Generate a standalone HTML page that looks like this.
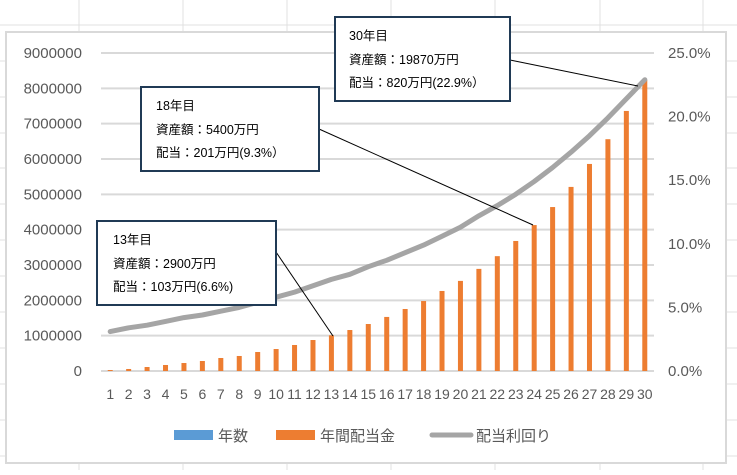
<!DOCTYPE html>
<html><head><meta charset="utf-8"><style>
body{margin:0;width:737px;height:470px;background:#fff;overflow:hidden;font-family:"Liberation Sans","Noto Sans CJK JP",sans-serif}
svg text{font-family:"Liberation Sans","Noto Sans CJK JP",sans-serif}
</style></head><body>
<svg id="chart" width="737" height="470" xmlns="http://www.w3.org/2000/svg">
<g id="cells"></g>
<rect x="6" y="32" width="720" height="431" fill="#fff" stroke="#d9d9d9" stroke-width="2"/>
<g id="grid"></g>
<g id="bars"></g>
<path id="yieldLine" fill="none" stroke="#a5a5a5" stroke-width="5" stroke-linecap="round" stroke-linejoin="round"/>
<g id="yl" font-size="15" fill="#595959" text-anchor="end"></g>
<g id="yr" font-size="15" fill="#595959"></g>
<g id="xl" font-size="14" fill="#595959" text-anchor="middle"></g>
<g font-size="12.5" fill="#000">
<line x1="510" y1="60" x2="638" y2="86" stroke="#000" stroke-width="1"/>
<line x1="319" y1="129" x2="533" y2="225" stroke="#000" stroke-width="1"/>
<line x1="276" y1="252" x2="333" y2="336" stroke="#000" stroke-width="1"/>
<g>
<rect x="335" y="17" width="175" height="84" fill="#fff" stroke="#203a55" stroke-width="2"/>
<text x="349" y="40">30年目</text><text x="349" y="64">資産額：19870万円</text><text x="349" y="87">配当：820万円(22.9%）</text></g>
<g>
<rect x="141" y="87" width="178" height="84" fill="#fff" stroke="#203a55" stroke-width="2"/>
<text x="156" y="110">18年目</text><text x="156" y="134">資産額：5400万円</text><text x="156" y="157">配当：201万円(9.3%）</text></g>
<g>
<rect x="97" y="221" width="179" height="84" fill="#fff" stroke="#203a55" stroke-width="2"/>
<text x="113" y="244">13年目</text><text x="113" y="268">資産額：2900万円</text><text x="113" y="291">配当：103万円(6.6%)</text></g>
</g>
<g font-size="15" fill="#595959">
<g><rect x="174" y="430" width="39" height="10" fill="#5b9bd5"/><text x="218" y="441">年数</text></g>
<g><rect x="276" y="430" width="39" height="10" fill="#ed7d31"/><text x="320" y="441">年間配当金</text></g>
<g><line x1="432" y1="435" x2="471" y2="435" stroke="#a5a5a5" stroke-width="5" stroke-linecap="round"/><text x="476" y="441">配当利回り</text></g>
</g>
</svg>
<script>
const categories=[1,2,3,4,5,6,7,8,9,10,11,12,13,14,15,16,17,18,19,20,21,22,23,24,25,26,27,28,29,30];
const dividends=[28000,57000,113000,170000,226000,283000,368000,425000,538000,622000,736000,877000,1010000,1160000,1330000,1530000,1755000,1980000,2265000,2550000,2890000,3250000,3680000,4130000,4640000,5210000,5860000,6560000,7360000,8240000];
const yields=[3.1,3.4,3.6,3.9,4.2,4.4,4.7,5.0,5.4,5.8,6.2,6.7,7.2,7.6,8.2,8.7,9.3,9.9,10.6,11.3,12.2,13.0,13.9,14.9,16.0,17.2,18.5,19.9,21.4,22.9];
const leftTicks=[0,1000000,2000000,3000000,4000000,5000000,6000000,7000000,8000000,9000000];
const rightTicks=[0,5,10,15,20,25];
const NS='http://www.w3.org/2000/svg';
const X0=101,X1=654,Y0=371,Y1=53;
const xC=i=>X0+(X1-X0)/categories.length*(i+0.5);
const yL=v=>Y0-(v/9000000)*(Y0-Y1);
const yR=v=>Y0-(v/25)*(Y0-Y1);
function mk(tag,attrs,parent){const e=document.createElementNS(NS,tag);for(const k in attrs)e.setAttribute(k,attrs[k]);parent.appendChild(e);return e;}
const cells=document.getElementById('cells');
[79,183,287,391,495,600,703].forEach(x=>{const l=mk('line',{x1:x,y1:0,x2:x,y2:470,stroke:'#e1e1e1'},cells);

});
[25,61,97,133,168,204,240,276,312,348,384,420,456].forEach(y=>{const l=mk('line',{x1:0,y1:y,x2:737,y2:y,stroke:'#e1e1e1'},cells);

});
const grid=document.getElementById('grid'),yl=document.getElementById('yl'),yr=document.getElementById('yr'),xl=document.getElementById('xl');
leftTicks.forEach(v=>{const l=mk('line',{x1:X0,x2:X1,y1:yL(v),y2:yL(v),stroke:'#d9d9d9','stroke-width':2},grid);


const t=mk('text',{x:82,y:yL(v)+5},yl);t.textContent=String(v);

});
rightTicks.forEach(v=>{const t=mk('text',{x:668,y:yR(v)+5},yr);t.textContent=v.toFixed(1)+'%';

});
const bars=document.getElementById('bars');
dividends.forEach((v,i)=>{const r=mk('rect',{x:xC(i)-2.5,y:yL(v),width:5,height:Y0-yL(v),fill:'#ed7d31'},bars);

});
categories.forEach((c,i)=>{const t=mk('text',{x:xC(i),y:399},xl);t.textContent=String(c);

});
document.getElementById('yieldLine').setAttribute('d',yields.map((v,i)=>(i?'L':'M')+xC(i).toFixed(1)+' '+yR(v).toFixed(1)).join(' '));
</script>
</body></html>
